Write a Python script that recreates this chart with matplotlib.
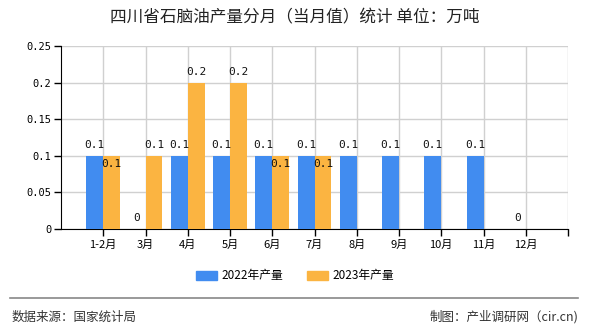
import matplotlib
matplotlib.use("Agg")
import matplotlib.pyplot as plt
import numpy as np
from matplotlib.patches import Rectangle
from matplotlib.lines import Line2D

plt.rcParams['font.family'] = ['Noto Sans CJK SC', 'DejaVu Sans']

categories = ["1-2月", "3月", "4月", "5月", "6月", "7月", "8月", "9月", "10月", "11月", "12月"]
prod_2022 = [0.1, 0, 0.1, 0.1, 0.1, 0.1, 0.1, 0.1, 0.1, 0.1, 0]
prod_2023 = [0.1, 0.1, 0.2, 0.2, 0.1, 0.1, None, None, None, None, None]
series_names = ["2022年产量", "2023年产量"]
yticks = [0, 0.05, 0.1, 0.15, 0.2, 0.25]
ytick_labels = ["0", "0.05", "0.1", "0.15", "0.2", "0.25"]

c22 = '#418CF0'
c23 = '#FBB441'

fig = plt.figure(figsize=(5.9, 3.3), dpi=100)
ax = fig.add_axes([61/590, 1-229/330, (568-61)/590, (229-46)/330])

x = np.arange(len(categories))
w = 0.4
ax.bar(x - w/2, prod_2022, width=w, color=c22, zorder=3)
x23 = [i for i, v in enumerate(prod_2023) if v is not None]
v23 = [prod_2023[i] for i in x23]
ax.bar(np.array(x23) + w/2, v23, width=w, color=c23, zorder=3)

numfont = dict(family='DejaVu Sans Mono', fontsize=8, color='#111')
for i, v in enumerate(prod_2022):
    ax.annotate(f"{v:g}", (i - w/2, v), xytext=(0, 4), textcoords='offset points',
                ha='center', va='bottom', zorder=5, **numfont)
for i in x23:
    v = prod_2023[i]
    if prod_2022[i] == v:
        ax.annotate(f"{v:g}", (i + w/2, v), xytext=(0, -2), textcoords='offset points',
                    ha='center', va='top', zorder=5, **numfont)
    else:
        ax.annotate(f"{v:g}", (i + w/2, v), xytext=(0, 4), textcoords='offset points',
                    ha='center', va='bottom', zorder=5, **numfont)

ax.set_xlim(-1, len(categories))
ax.set_ylim(0, 0.25)
ax.set_xticks(list(x) + [len(categories)])
ax.set_xticklabels(categories + [""], fontsize=8)
ax.set_yticks(yticks)
ax.set_yticklabels(ytick_labels, family='DejaVu Sans Mono', fontsize=7.5)
ax.grid(True, color='#d0d0d0', linewidth=1, zorder=0)
ax.set_axisbelow(True)
for s in ['top', 'right']:
    ax.spines[s].set_visible(False)
ax.spines['left'].set_color('black')
ax.spines['bottom'].set_color('black')
ax.tick_params(axis='both', length=5, width=1, color='black', pad=2)
ax.tick_params(axis='x', pad=3)

fig.text(0.5, 1-18/330, "四川省石脑油产量分月（当月值）统计 单位：万吨", ha='center', va='center',
         fontsize=12, color='#222')

# legend
fig.legend(handles=[Rectangle((0, 0), 1, 1, color=c22), Rectangle((0, 0), 1, 1, color=c23)],
           labels=series_names, loc='center', bbox_to_anchor=(0.5, 1-276/330), ncol=2,
           frameon=False, fontsize=8.5, handlelength=1.8, handleheight=0.7,
           columnspacing=2.0, handletextpad=0.4)

fig.add_artist(Line2D([10/590, 578/590], [1-298/330, 1-298/330], color='#888888', linewidth=1.2))
fig.text(12/590, 1-317/330, "数据来源：国家统计局", ha='left', va='center', fontsize=9, color='#333')
fig.text(578/590, 1-317/330, "制图：产业调研网（cir.cn)", ha='right', va='center', fontsize=9, color='#333')

fig.savefig("out.png", dpi=100)
